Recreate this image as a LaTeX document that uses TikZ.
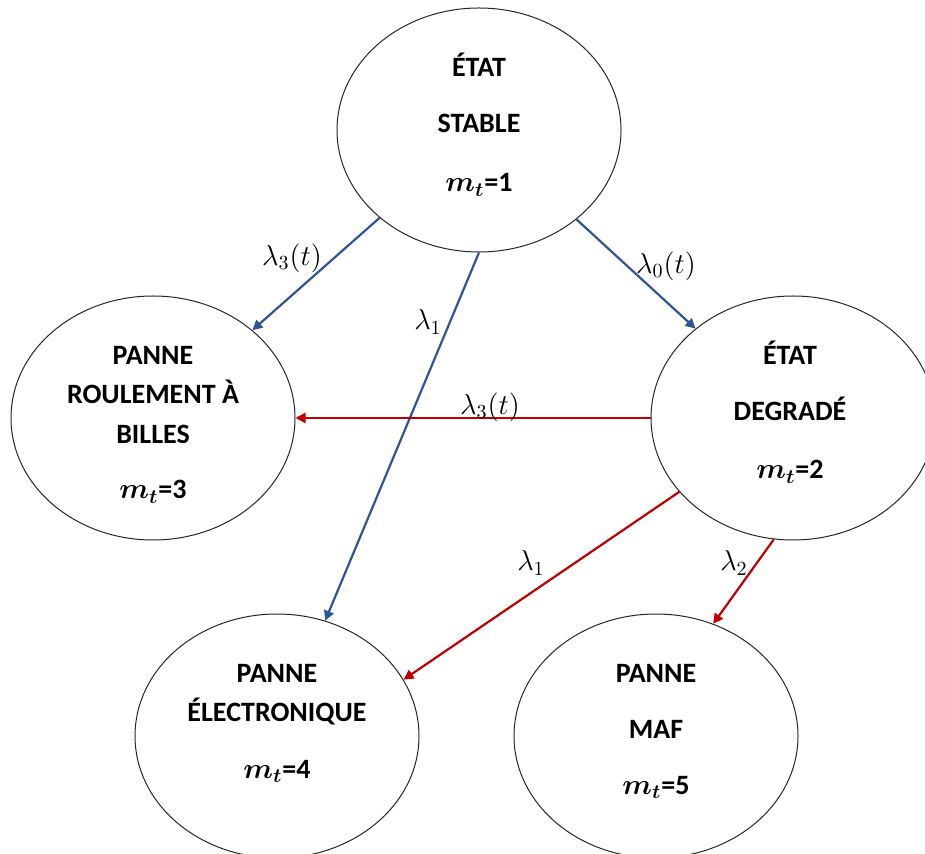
\documentclass[tikz,border=0pt]{standalone}
\usepackage{amsmath}
\usepackage{fontspec}
\setsansfont{Carlito}
\usetikzlibrary{arrows.meta, shapes.geometric}

\definecolor{flechebleue}{HTML}{2F5597}
\definecolor{flecherouge}{HTML}{C00000}

\tikzset{
    etat/.style={draw=black!85, line width=0.5pt, ellipse, minimum width=142pt, minimum height=122pt, inner sep=0pt},
    titre/.style={font=\sffamily\bfseries\fontsize{14}{17}\selectfont, anchor=base, inner sep=0pt},
    taux/.style={font=\fontsize{14}{16}\selectfont, inner sep=0pt},
    transbleue/.style={draw=flechebleue, line width=1.1pt, -{Triangle[length=5pt,width=5pt]}},
    transrouge/.style={draw=flecherouge, line width=1.1pt, -{Triangle[length=5pt,width=5pt]}}
}

\begin{document}
\begin{tikzpicture}[x=0.5pt, y=-0.5pt]
        \useasboundingbox (0,0) rectangle (925,854);
        \clip (0,0) rectangle (925,854);

        % Etats
        \node[etat] (stable) at (479,130) {};
        \node[etat] (roul)   at (153,418) {};
        \node[etat] (degr)   at (793,418) {};
        \node[etat] (elec)   at (277,736) {};
        \node[etat] (maf)    at (656,736) {};

        % Textes des etats
        \node[titre] (stable-a) at (479,77)  {ÉTAT};
        \node[titre] (stable-b) at (479,133) {STABLE};
        \node[titre] (stable-c) at (479,192) {$\boldsymbol{m_t}$=1};

        \node[titre] (roul-a) at (153,365) {PANNE};
        \node[titre] (roul-b) at (153,404) {ROULEMENT À};
        \node[titre] (roul-c) at (153,444) {BILLES};
        \node[titre] (roul-d) at (153,499) {$\boldsymbol{m_t}$=3};

        \node[titre] (degr-a) at (790,365) {ÉTAT};
        \node[titre] (degr-b) at (790,421) {DEGRADÉ};
        \node[titre] (degr-c) at (790,479) {$\boldsymbol{m_t}$=2};

        \node[titre] (elec-a) at (277,682) {PANNE};
        \node[titre] (elec-b) at (277,721) {ÉLECTRONIQUE};
        \node[titre] (elec-c) at (277,778) {$\boldsymbol{m_t}$=4};

        \node[titre] (maf-a) at (656,682) {PANNE};
        \node[titre] (maf-b) at (656,738) {MAF};
        \node[titre] (maf-c) at (656,794) {$\boldsymbol{m_t}$=5};

        % Transitions depuis l'etat stable
        \draw[transbleue] (stable) -- (roul);
        \draw[transbleue] (stable) -- (degr);
        \draw[transbleue] (stable.south) -- (elec);

        % Transitions depuis l'etat degrade
        \draw[transrouge] (degr) -- (roul);
        \draw[transrouge] (degr.213) -- (elec.24);
        \draw[transrouge] (degr.261) -- (maf.63);

        % Taux
        \node[taux] (taux-sr) at (292,258) {$\lambda_3(t)$};
        \node[taux] (taux-sd) at (666,266) {$\lambda_0(t)$};
        \node[taux] (taux-se) at (428,322) {$\lambda_1$};
        \node[taux] (taux-dr) at (490,407) {$\lambda_3(t)$};
        \node[taux] (taux-de) at (531,563) {$\lambda_1$};
        \node[taux] (taux-dm) at (734,563) {$\lambda_2$};

    \end{tikzpicture}
\end{document}
